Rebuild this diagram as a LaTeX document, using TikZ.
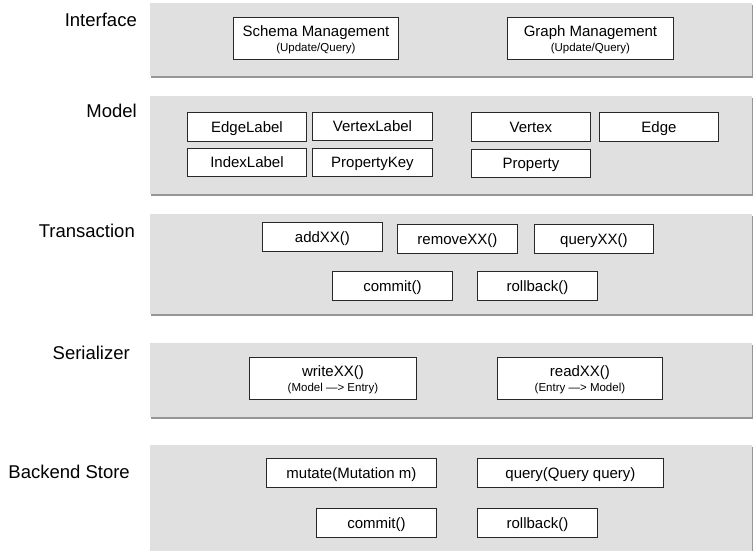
\documentclass[tikz,border=0pt]{standalone}
\usepackage{fontspec}
\setmainfont{Liberation Sans}
\usetikzlibrary{shadows}
\definecolor{panelfill}{RGB}{224,224,224}
\definecolor{panelshadow}{RGB}{150,150,150}
\definecolor{boxline}{RGB}{40,40,40}
\newcommand\subtxt[1]{{\fontsize{11.5}{15}\selectfont #1}}
\tikzset{
  panel/.style={fill=panelfill, draw=none, anchor=north west, inner sep=0pt,
    drop shadow={shadow xshift=1pt, shadow yshift=-1.5pt, fill=panelshadow, opacity=1}},
  layer/.style={anchor=base east, inner sep=0pt, font=\fontsize{18.5}{20}\selectfont},
  box/.style={draw=boxline, line width=0.9pt, fill=white, anchor=north west,
    inner sep=0pt, align=center, font=\fontsize{15}{15}\selectfont,
    text height=11pt, text depth=0pt},
  box2/.style={box, text height=, text depth=0pt},
  wh/.style 2 args={minimum width=#1pt, minimum height=#2pt}
}
\begin{document}
\begin{tikzpicture}[x=1pt, y=-1pt]
\useasboundingbox (0,0) rectangle (755,551);
\clip (0,0) rectangle (755,551);
% panels
\node[panel, wh={602}{73}]  (pInterface)   at (150,3)   {};
\node[panel, wh={602}{98}]  (pModel)       at (150,96)  {};
\node[panel, wh={602}{100}] (pTransaction) at (150,214) {};
\node[panel, wh={602}{74}]  (pSerializer)  at (150,343) {};
\node[panel, wh={602}{130}] (pBackend)     at (150,445) {};
% layer labels
\node[layer] (lInterface)   at (137,27)  {Interface};
\node[layer] (lModel)       at (137,117) {Model};
\node[layer] (lTransaction) at (135,237) {Transaction};
\node[layer] (lSerializer)  at (130,359) {Serializer};
\node[layer] (lBackend)     at (130,478) {Backend Store};
% interface
\node[box2, wh={165}{42}] (schema) at (233,17) {Schema Management\\\subtxt{(Update/Query)}};
\node[box2, wh={166}{42}] (graph)  at (507,17) {Graph Management\\\subtxt{(Update/Query)}};
% model
\node[box, wh={119}{29}] (edgelabel)   at (187,112) {EdgeLabel};
\node[box, wh={120}{28}] (vertexlabel) at (312,112) {VertexLabel};
\node[box, wh={119}{28}] (indexlabel)  at (187,148) {IndexLabel};
\node[box, wh={120}{28}] (propertykey) at (312,148) {PropertyKey};
\node[box, wh={119}{29}] (vertex)      at (471,112) {Vertex};
\node[box, wh={119}{29}] (edge)        at (599,112) {Edge};
\node[box, wh={119}{28}] (property)    at (471,149) {Property};
% transaction
\node[box, wh={120}{29}] (addxx)    at (262,222) {addXX()};
\node[box, wh={120}{29}] (removexx) at (397,224) {removeXX()};
\node[box, wh={119}{29}] (queryxx)  at (534,224) {queryXX()};
\node[box, wh={120}{29}] (tcommit)  at (332,271) {commit()};
\node[box, wh={120}{29}] (trollback) at (477,271) {rollback()};
% serializer
\node[box2, wh={167}{42}] (writexx) at (249,357) {writeXX()\\\subtxt{(Model —> Entry)}};
\node[box2, wh={165}{42}] (readxx)  at (497,357) {readXX()\\\subtxt{(Entry —> Model)}};
% backend
\node[box, wh={170}{29}] (mutate)    at (266,458) {mutate(Mutation m)};
\node[box, wh={186}{29}] (query)     at (477,458) {query(Query query)};
\node[box, wh={120}{29}] (bcommit)   at (316,508) {commit()};
\node[box, wh={120}{29}] (brollback) at (477,508) {rollback()};
\end{tikzpicture}
\end{document}
